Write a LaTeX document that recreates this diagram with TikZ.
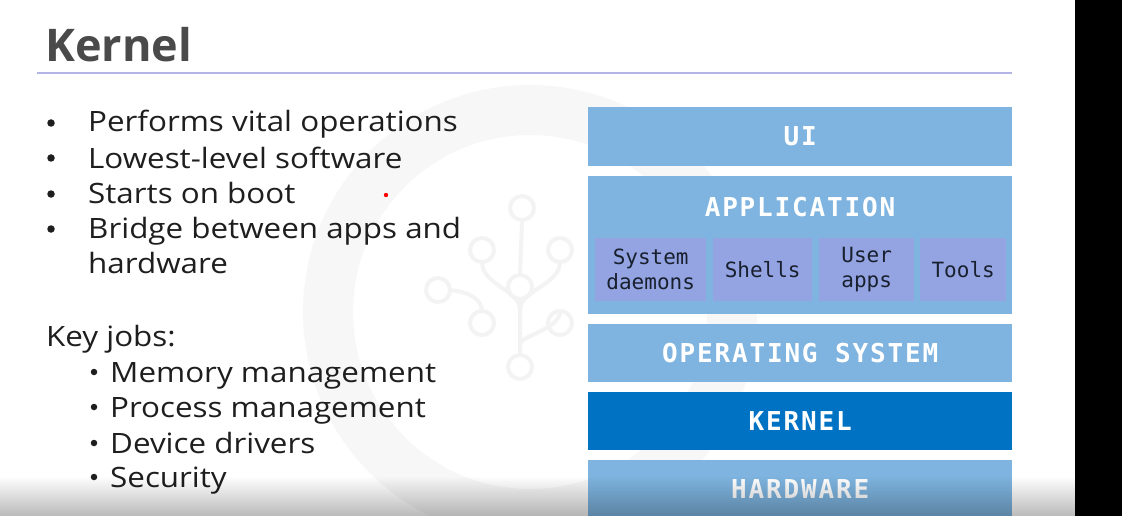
\documentclass[tikz,border=0pt]{standalone}
\usepackage{fontspec}
\setmainfont[FakeStretch=1.12]{Open Sans}
\newfontfamily\titlefont{Open Sans}
\newfontfamily\monof{DejaVu Sans Mono}
\newfontfamily\monohead[LetterSpace=7]{DejaVu Sans Mono}
\usetikzlibrary{fadings}

\definecolor{layerblue}{HTML}{7EB4DF}
\definecolor{kernelblue}{HTML}{0072C3}
\definecolor{subfill}{HTML}{94A4E3}
\definecolor{subtext}{HTML}{18202E}
\definecolor{titlegray}{HTML}{4A4A4A}
\definecolor{bodytext}{HTML}{1E1E1E}
\definecolor{rulecol}{HTML}{B4B4E6}
\definecolor{markcol}{HTML}{F7F7F7}
\definecolor{treecol}{HTML}{F3F3F3}

\tikzset{
  layerbox/.style={fill=layerblue, draw=none, anchor=north west, inner sep=0pt,
    minimum width=424pt, text=white,
    font=\monohead\bfseries\fontsize{26}{30}\selectfont},
  subbox/.style={fill=subfill, draw=none, anchor=north west, inner sep=0pt,
    minimum height=63pt, text=subtext, align=center,
    font=\monof\fontsize{21}{25}\selectfont},
  bodyline/.style={anchor=base west, inner sep=0pt, text=bodytext,
    font=\fontsize{28}{34}\selectfont},
  bigdot/.style={circle, fill=bodytext, inner sep=0pt, minimum size=7.5pt},
  smalldot/.style={circle, fill=bodytext, inner sep=0pt, minimum size=6.5pt},
  markline/.style={draw=treecol, line width=4pt},
}

\begin{document}
\begin{tikzpicture}[x=1pt,y=-1pt]
\useasboundingbox (0,0) rectangle (1122,516);
\fill[white] (0,0) rectangle (1122,516);

% faint logo watermark behind the slide
\draw[markcol, line width=50pt] (530,312) circle[radius=202pt];
\foreach \p/\q in {522/208, 482/250, 560/250, 438/290, 520/287, 482/323, 560/323, 520/367}
  \draw[markline] (\p,\q) circle[radius=12pt];
\draw[markline] (522,220) -- (520,275) (520,299) -- (520,355)
  (482,262) .. controls (482,285) and (520,290) .. (520,310)
  (560,262) .. controls (560,285) and (520,290) .. (520,310)
  (450,290) .. controls (470,292) and (482,300) .. (482,311)
  (560,311) .. controls (560,330) and (520,335) .. (520,345);

% title and rule
\node[anchor=base west, inner sep=0pt, text=titlegray,
  font=\titlefont\bfseries\fontsize{45}{52}\selectfont] (title) at (45,62) {Kernel};
\draw[rulecol, line width=1.2pt] (37,73) -- (1012,73);

% bullet list
\node[bigdot] (b1) at (51,123) {};
\node[bodyline] (t1) at (88,132) {Performs vital operations};
\node[bigdot] (b2) at (51,158) {};
\node[bodyline] (t2) at (88,168) {Lowest-level software};
\node[bigdot] (b3) at (51,194) {};
\node[bodyline] (t3) at (88,203) {Starts on boot};
\node[bigdot] (b4) at (51,229) {};
\node[bodyline] (t4) at (88,238) {Bridge between apps and};
\node[bodyline] (t5) at (88,273) {hardware};

\node[bodyline] (jobs) at (46,346) {Key jobs:};
\node[smalldot] (j1b) at (94,372) {};
\node[bodyline] (j1) at (110,382) {Memory management};
\node[smalldot] (j2b) at (94,407) {};
\node[bodyline] (j2) at (110,417) {Process management};
\node[smalldot] (j3b) at (94,443) {};
\node[bodyline] (j3) at (110,453) {Device drivers};
\node[smalldot] (j4b) at (94,477) {};
\node[bodyline] (j4) at (110,487) {Security};

% laser pointer dot
\fill[red] (386,195) circle[radius=2.2pt];

% layer stack
\node[layerbox, minimum height=59pt] (ui) at (588,107) {UI};
\node[layerbox, minimum height=138pt] (app) at (588,176) {};
\node[anchor=center, inner sep=0pt, text=white,
  font=\monohead\bfseries\fontsize{26}{30}\selectfont] (applabel) at (800,207) {APPLICATION};
\node[subbox, minimum width=111pt] (daemons) at (595,238) {System\\daemons};
\node[subbox, minimum width=99pt] (shells) at (713,238) {Shells};
\node[subbox, minimum width=95pt] (userapps) at (819,238) {User\\apps};
\node[subbox, minimum width=86pt] (tools) at (920,238) {Tools};
\node[layerbox, minimum height=58pt] (os) at (588,324) {OPERATING SYSTEM};
\node[layerbox, minimum height=58pt, fill=kernelblue] (kernel) at (588,392) {KERNEL};
\node[layerbox, minimum height=58pt] (hardware) at (588,460) {HARDWARE};

% bottom shadow band
\fill[black, opacity=0.27, path fading=north] (0,476) rectangle (1075,516);

% dark strip on the right edge
\fill[black] (1075,0) rectangle (1122,516);
\end{tikzpicture}
\end{document}
